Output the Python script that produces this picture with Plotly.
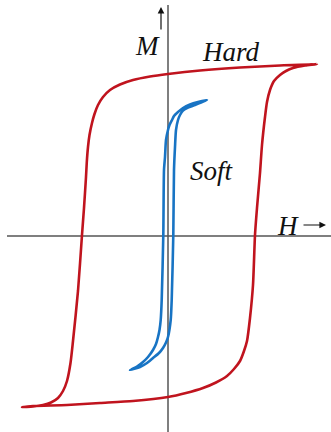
import plotly.graph_objects as go

# Hard magnet loop: descending branch (from +saturation) and ascending branch
hard_down_H = [149, 112, 72, 32, 0, -18, -35, -48, -58, -65, -70, -73.5, -76, -78.5, -80, -81.2, -82, -84,
               -86, -90, -95, -97.5, -101, -105, -110, -117, -125, -135, -146]
hard_down_M = [172, 170.5, 168.5, 165.5, 162, 159.5, 156, 151.5, 146, 139, 131, 122, 113, 101, 89, 74, 59, 28,
               1, -55, -105, -127, -145, -155, -162, -166.5, -169, -170.5, -171]
hard_up_H = [-146, -135, -101, -68, -35, 0, 18, 35, 48, 59, 66, 72, 76, 79, 82, 85, 87, 89,
             92, 94, 97, 99, 102, 106, 112, 118, 125, 137, 149]
hard_up_M = [-171, -170, -169, -167, -165, -161, -157, -152, -146.5, -140, -133, -125, -115, -105, -82, -49, 1, 28,
             63, 91, 119, 134, 146, 155, 161, 165, 168, 170.5, 172]

# Soft magnet loop
soft_down_H = [39, 30, 22, 15, 10, 6, 4, 1.5, 0, -2, -3, -4, -4.7, -6.3, -7.3, -8.5, -10, -12, -15, -20, -25, -31, -38]
soft_down_M = [136, 134, 131.5, 128, 124, 120, 116, 111, 106, 96, 79, 66, 1, -64, -84, -94, -101, -108, -114, -121, -126, -130.5, -134]
soft_up_H = [-38, -28, -21, -15, -9, -5, -2, 0, 2.7, 3.7, 5.3, 6, 7, 8, 10, 12, 15, 20, 27, 33, 39]
soft_up_M = [-134, -131, -127, -122, -117, -112, -106.5, -101, -84, -64, 1, 66, 89, 106, 116, 121, 125.5, 128.5, 131, 133.5, 136]

RED = "#c0141e"
BLUE = "#1874c4"
AXIS = "#555555"
INK = "#111111"

fig = go.Figure()

# coordinate axes
fig.add_trace(go.Scatter(x=[-161, 163], y=[0, 0], mode="lines",
                         line=dict(color=AXIS, width=1.5), hoverinfo="skip"))
fig.add_trace(go.Scatter(x=[0, 0], y=[231, -196], mode="lines",
                         line=dict(color=AXIS, width=1.5), hoverinfo="skip"))

fig.add_trace(go.Scatter(x=hard_down_H + hard_up_H[1:], y=hard_down_M + hard_up_M[1:],
                         mode="lines", line=dict(color=RED, width=2.6, shape="spline", smoothing=0.6),
                         hoverinfo="skip"))
fig.add_trace(go.Scatter(x=soft_down_H + soft_up_H[1:], y=soft_down_M + soft_up_M[1:],
                         mode="lines", line=dict(color=BLUE, width=2.6, shape="spline", smoothing=0.6),
                         hoverinfo="skip"))

serif = "Liberation Serif"
labels = [
    ("<i>M</i>", -21, 190),
    ("<i>Hard</i>", 63, 184),
    ("<i>Soft</i>", 44, 65),
    ("<i>H</i>", 120, 10),
]
for text, x, y in labels:
    fig.add_annotation(x=x, y=y, text=text, showarrow=False,
                       font=dict(family=serif, size=27, color=INK),
                       xanchor="center", yanchor="middle")

# direction arrows next to the axis labels
fig.add_annotation(x=158, y=11, ax=134, ay=11, xref="x", yref="y", axref="x", ayref="y",
                   text="", showarrow=True, arrowhead=2, arrowsize=1.1, arrowwidth=1.2, arrowcolor=INK)
fig.add_annotation(x=-7, y=229, ax=-7, ay=205, xref="x", yref="y", axref="x", ayref="y",
                   text="", showarrow=True, arrowhead=2, arrowsize=1.1, arrowwidth=1.2, arrowcolor=INK)

fig.update_layout(
    width=331, height=432,
    margin=dict(l=0, r=0, t=0, b=0),
    paper_bgcolor="white", plot_bgcolor="white",
    showlegend=False,
    xaxis=dict(range=[-168, 163], visible=False, fixedrange=True),
    yaxis=dict(range=[-196, 236], visible=False, fixedrange=True),
)

fig.write_html("out.html")
